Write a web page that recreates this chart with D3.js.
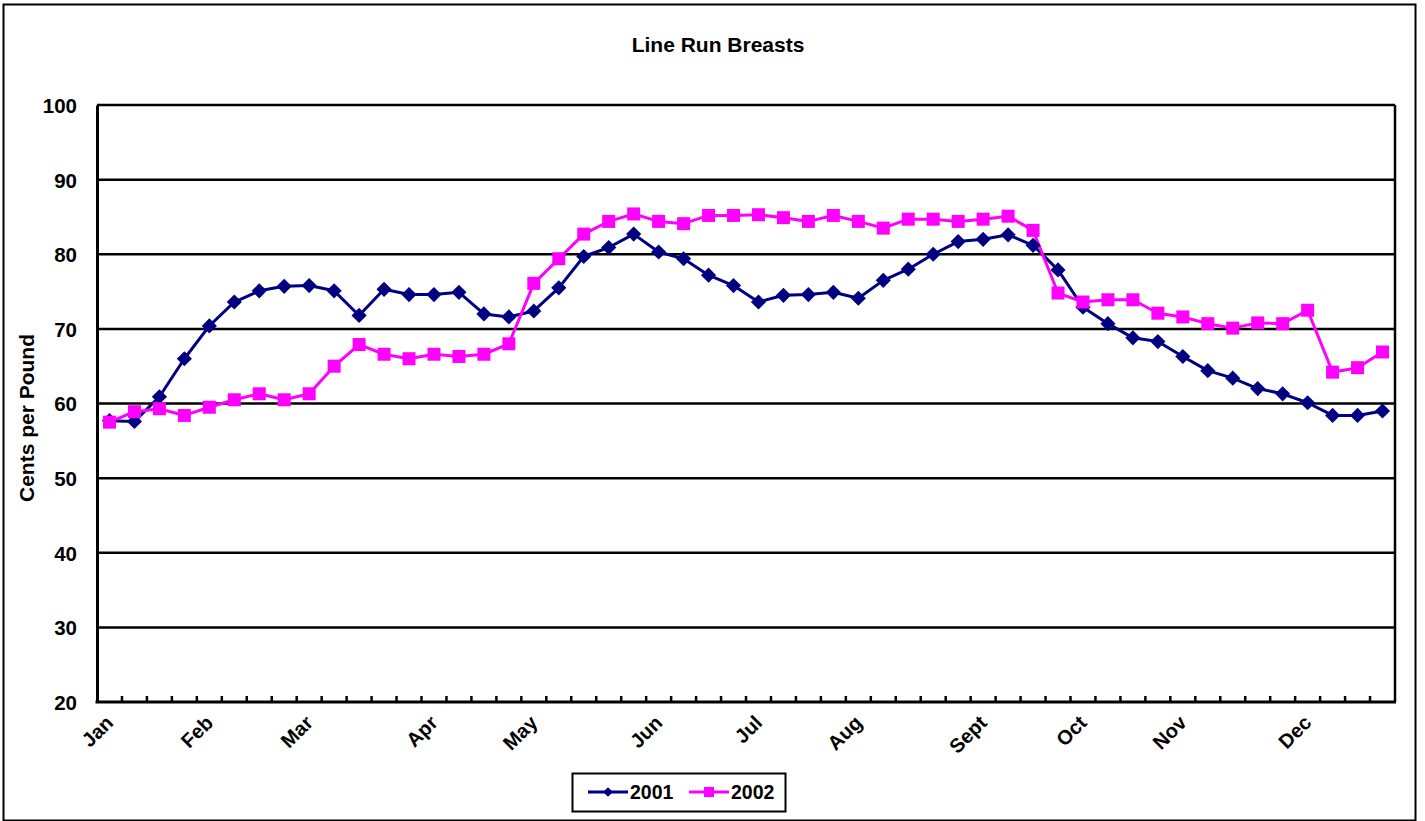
<!DOCTYPE html>
<html>
<head>
<meta charset="utf-8">
<script src="https://cdn.jsdelivr.net/npm/d3@7/dist/d3.min.js"></script>
<style>
  html, body { margin: 0; padding: 0; background: #fff; }
  svg { display: block; }
  text { font-family: "Liberation Sans", Arial, sans-serif; font-weight: bold; fill: #000; }
</style>
</head>
<body>
<svg id="chart" width="1425" height="821"></svg>
<script>
const title = "Line Run Breasts";
const yTitle = "Cents per Pound";
const weeks = d3.range(1, 53);
const monthLabels = ["Jan","Feb","Mar","Apr","May","Jun","Jul","Aug","Sept","Oct","Nov","Dec"];
const monthWeeks = [1, 5, 9, 14, 18, 23, 27, 31, 36, 40, 44, 49];
const yTicks = [20, 30, 40, 50, 60, 70, 80, 90, 100];
const seriesNames = ["2001", "2002"];
const values2001 = [57.7, 57.6, 60.9, 66.0, 70.4, 73.6, 75.1, 75.7, 75.8, 75.1,
  71.8, 75.3, 74.6, 74.6, 74.9, 72.0, 71.6, 72.4, 75.5, 79.7,
  80.9, 82.7, 80.3, 79.4, 77.2, 75.8, 73.6, 74.5, 74.6, 74.9,
  74.1, 76.5, 78.0, 80.0, 81.7, 82.0, 82.6, 81.2, 77.9, 72.9,
  70.7, 68.8, 68.3, 66.3, 64.4, 63.4, 62.0, 61.3, 60.1, 58.4,
  58.4, 59.0];
const values2002 = [57.5, 58.9, 59.3, 58.4, 59.5, 60.5, 61.3, 60.5, 61.3, 65.0,
  67.9, 66.6, 66.0, 66.6, 66.3, 66.6, 68.0, 76.1, 79.4, 82.7,
  84.4, 85.4, 84.4, 84.1, 85.2, 85.2, 85.3, 84.9, 84.4, 85.2,
  84.4, 83.5, 84.7, 84.7, 84.4, 84.7, 85.1, 83.2, 74.8, 73.6,
  73.9, 73.9, 72.1, 71.6, 70.7, 70.1, 70.8, 70.7, 72.5, 64.2,
  64.8, 66.9];
const colors = ["#000080", "#FF00FF"];

const svg = d3.select("#chart");
const L = 97, R = 1395, T = 105, B = 702;

const x = d3.scaleBand().domain(weeks).range([L, R]).paddingInner(0).paddingOuter(0);
const y = d3.scaleLinear().domain([20, 100]).range([B, T]);
const cx = d => x(d) + x.bandwidth() / 2;

// outer border
svg.append("rect").attr("x", 3.5).attr("y", 4.5).attr("width", 1412).attr("height", 816)
  .attr("fill", "#fff").attr("stroke", "#000").attr("stroke-width", 2);

// title
svg.append("text").attr("x", 718).attr("y", 52).attr("text-anchor", "middle")
  .style("font-size", "21px").text(title);

// y title
svg.append("text").attr("transform", "translate(34,418) rotate(-90)")
  .attr("text-anchor", "middle").style("font-size", "21px").text(yTitle);

// gridlines
svg.append("g").selectAll("line").data(yTicks.filter(t => t > 20)).join("line")
  .attr("x1", L).attr("x2", R).attr("y1", d => y(d)).attr("y2", d => y(d))
  .attr("stroke", "#000").attr("stroke-width", 2.5);

// right plot border
svg.append("line").attr("x1", R).attr("x2", R).attr("y1", T).attr("y2", B)
  .attr("stroke", "#000").attr("stroke-width", 2.5);

// y axis
const yAxis = svg.append("g").attr("transform", `translate(${L},0)`)
  .call(d3.axisLeft(y).tickValues(yTicks).tickSize(0).tickPadding(20));
yAxis.select(".domain").attr("stroke", "#000").attr("stroke-width", 3);
yAxis.selectAll("text").style("font-size", "20.5px").style("font-family", "Liberation Sans, Arial, sans-serif")
  .style("font-weight", "bold").attr("dy", "0.36em");

// x axis line
svg.append("line").attr("x1", L - 1.5).attr("x2", R + 1).attr("y1", B).attr("y2", B)
  .attr("stroke", "#000").attr("stroke-width", 3);
// inside tick marks at category boundaries
svg.append("g").selectAll("line").data(weeks.slice(1)).join("line")
  .attr("x1", d => x(d)).attr("x2", d => x(d)).attr("y1", B).attr("y2", B - 6)
  .attr("stroke", "#000").attr("stroke-width", 2.5);

// month labels
svg.append("g").selectAll("text").data(monthLabels).join("text")
  .attr("transform", (d, i) => `translate(${cx(monthWeeks[i]) + 5},${B + 22}) rotate(-45)`)
  .attr("text-anchor", "end").style("font-size", "20px").text(d => d);

// series
const series = [values2001, values2002];
const line = d3.line().x((d, i) => cx(weeks[i])).y(d => y(d));
series.forEach((vals, s) => {
  svg.append("path").datum(vals).attr("d", line).attr("fill", "none")
    .attr("stroke", colors[s]).attr("stroke-width", 3).attr("stroke-linejoin", "round");
});
// 2001 diamonds
svg.append("g").selectAll("path").data(values2001).join("path")
  .attr("transform", (d, i) => `translate(${cx(weeks[i])},${y(d)}) rotate(45)`)
  .attr("d", d3.symbol().type(d3.symbolSquare).size(115)).attr("fill", colors[0]);
// 2002 squares
svg.append("g").selectAll("rect").data(values2002).join("rect")
  .attr("x", (d, i) => cx(weeks[i]) - 6.5).attr("y", d => y(d) - 6.5)
  .attr("width", 13).attr("height", 13).attr("fill", colors[1]);

// legend
const lg = svg.append("g");
lg.append("rect").attr("x", 572.5).attr("y", 773.5).attr("width", 213).attr("height", 38)
  .attr("fill", "#fff").attr("stroke", "#000").attr("stroke-width", 2);
const lx = [588, 689];
seriesNames.forEach((n, s) => {
  lg.append("line").attr("x1", lx[s]).attr("x2", lx[s] + 40).attr("y1", 792).attr("y2", 792)
    .attr("stroke", colors[s]).attr("stroke-width", 3);
  if (s === 0) {
    lg.append("path").attr("transform", `translate(${lx[s] + 20},792) rotate(45)`)
      .attr("d", d3.symbol().type(d3.symbolSquare).size(45)).attr("fill", colors[s]);
  } else {
    lg.append("rect").attr("x", lx[s] + 15).attr("y", 787).attr("width", 10).attr("height", 10)
      .attr("fill", colors[s]);
  }
  lg.append("text").attr("x", lx[s] + 42).attr("y", 799).style("font-size", "19.5px").text(n);
});
</script>
</body>
</html>
